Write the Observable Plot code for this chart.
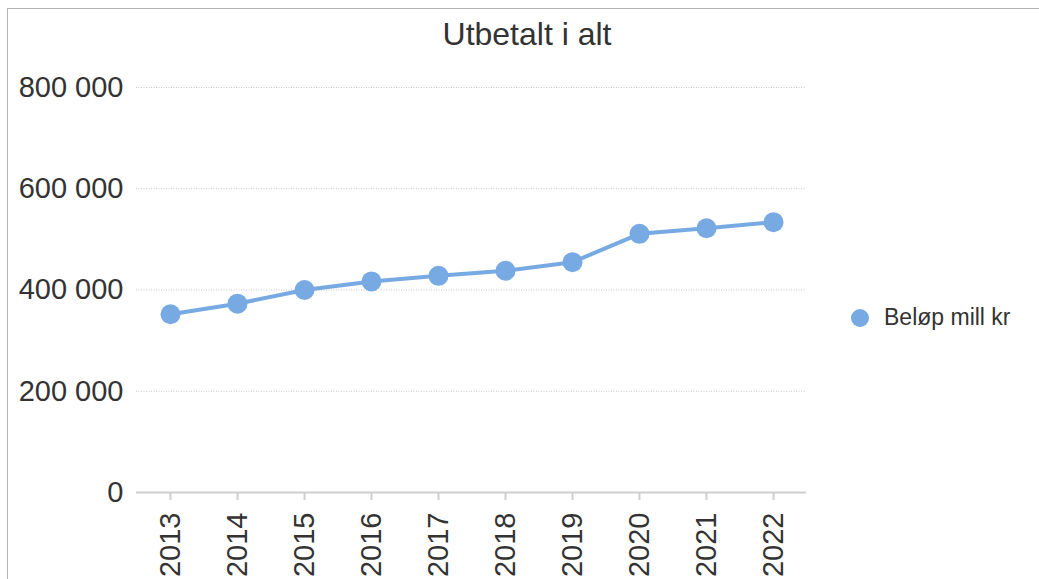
<!DOCTYPE html>
<html>
<head>
<meta charset="utf-8">
<script src="https://cdn.jsdelivr.net/npm/d3@7"></script>
<script src="https://cdn.jsdelivr.net/npm/@observablehq/plot@0.6"></script>
<style>
  html, body { margin: 0; padding: 0; background: #fff; overflow: hidden; }
  #wrap { position: relative; width: 1039px; height: 579px; font-family: "Liberation Sans", Arial, sans-serif; color: #333; }
  #frame { position: absolute; left: 7px; top: 8px; width: 1100px; height: 700px; border-top: 1px solid #b5b5b5; border-left: 1px solid #b5b5b5; }
  #title { position: absolute; left: 0; width: 1054px; top: 14px; text-align: center; font-size: 32px; line-height: 40px; color: #333; }
  #chart { position: absolute; left: 0; top: 60px; }
  #legend { position: absolute; left: 851px; top: 304px; display: flex; align-items: center; font-size: 23px; color: #333; }
  #legend .sw { width: 18px; height: 18px; border-radius: 50%; margin-right: 15px; }
</style>
</head>
<body>
<div id="wrap">
  <div id="frame"></div>
  <div id="title">Utbetalt i alt</div>
  <div id="chart"></div>
  <div id="legend"><span class="sw"></span><span id="legtext"></span></div>
</div>
<script>
const years = ["2013", "2014", "2015", "2016", "2017", "2018", "2019", "2020", "2021", "2022"];
const values = [352000, 373000, 400000, 417000, 428000, 438000, 455000, 511000, 522000, 534000];
const yTicks = [0, 200000, 400000, 600000, 800000];
const seriesName = "Beløp mill kr";
const color = "#77aae2";

const data = years.map((y, i) => ({year: y, value: values[i]}));
const fmt = v => d3.format(",")(v).replace(/,/g, " ");

const chart = Plot.plot({
  width: 1039,
  height: 519,
  marginTop: 27,
  marginBottom: 87,
  marginLeft: 136,
  marginRight: 233,
  style: {fontFamily: "'Liberation Sans', Arial, sans-serif", fontSize: "29px", color: "#333", background: "transparent", overflow: "visible"},
  x: {type: "point", domain: years, padding: 0.5},
  y: {domain: [0, 800000]},
  marks: [
    Plot.gridY(yTicks.filter(d => d > 0), {stroke: "#c8c8c8", strokeOpacity: 1, strokeDasharray: "1,1.5"}),
    Plot.ruleY([0], {stroke: "#cfcfcf", strokeWidth: 2}),
    Plot.axisY({ticks: yTicks, tickSize: 0, tickPadding: 13, tickFormat: fmt, label: null, fill: "#333"}),
    Plot.axisX({tickSize: 8, tickPadding: 12, tickRotate: -90, stroke: "#cfcfcf", strokeWidth: 2, label: null, fill: "#333"}),
    Plot.line(data, {x: "year", y: "value", stroke: color, strokeWidth: 4}),
    Plot.dot(data, {x: "year", y: "value", r: 10, fill: color})
  ]
});
document.getElementById("chart").appendChild(chart);
document.querySelector("#legend .sw").style.background = color;
document.getElementById("legtext").textContent = seriesName;
</script>
</body>
</html>
